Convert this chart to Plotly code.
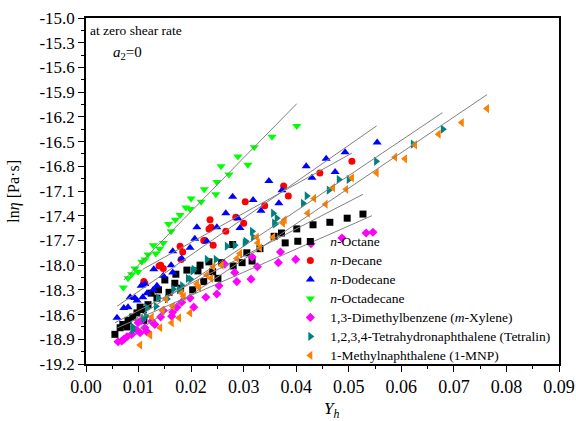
import plotly.graph_objects as go

# ---------------- data ----------------
names = ["<i>n</i>-Octane", "<i>n</i>-Decane", "<i>n</i>-Dodecane", "<i>n</i>-Octadecane",
         "1,3-Dimethylbenzene (<i>m</i>-Xylene)",
         "1,2,3,4-Tetrahydronaphthalene (Tetralin)",
         "1-Methylnaphthalene (1-MNP)"]
colors = ["#000000", "#ff0000", "#0000ff", "#00ff00", "#ff00ff", "#008080", "#ff8000"]
symbols = ["square", "circle", "triangle-up", "triangle-down", "diamond", "triangle-right", "triangle-left"]
msizes = [7, 7, 8, 8, 7, 8, 8]

octane_x = [0.0055, 0.0065, 0.0070, 0.0078, 0.0080, 0.0089, 0.0097, 0.0103, 0.0109, 0.0110, 0.0118, 0.0124,
            0.0135, 0.0138, 0.0150, 0.0158, 0.0169, 0.0171, 0.0180, 0.0192, 0.0203, 0.0213, 0.0217, 0.0224,
            0.0234, 0.0241, 0.0251, 0.0258, 0.0279, 0.0280, 0.0297, 0.0306, 0.0316, 0.0331, 0.0358, 0.0372,
            0.0379, 0.0401, 0.0403, 0.0432, 0.0464, 0.0497, 0.0527]
octane_y = [-18.84, -18.76, -18.72, -18.75, -18.67, -18.63, -18.58, -18.51, -18.54, -18.67, -18.48, -18.34,
            -18.40, -18.30, -18.18, -18.33, -18.22, -18.11, -18.28, -18.06, -18.30, -18.07, -18.00, -18.20,
            -17.96, -18.08, -18.16, -17.97, -17.75, -18.01, -17.97, -17.85, -17.95, -17.80, -17.65, -17.61,
            -17.73, -17.56, -17.71, -17.51, -17.48, -17.43, -17.38]

decane_x = [0.0110, 0.0112, 0.0139, 0.0142, 0.0147, 0.0179, 0.0181, 0.0184, 0.0224, 0.0226, 0.0234, 0.0236,
            0.0238, 0.0242, 0.0266, 0.0285, 0.0300, 0.0303, 0.0340, 0.0376, 0.0385, 0.0445, 0.0506]
decane_y = [-18.20, -18.22, -18.01, -18.00, -18.04, -17.77, -17.93, -17.84, -17.70, -17.70, -17.56, -17.45,
            -17.54, -17.76, -17.59, -17.42, -17.49, -17.23, -17.28, -17.04, -17.16, -16.88, -16.74]

dodecane_x = [0.0059, 0.0072, 0.0080, 0.0084, 0.0093, 0.0097, 0.0105, 0.0108, 0.0112, 0.0116, 0.0128, 0.0129,
              0.0135, 0.0147, 0.0162, 0.0165, 0.0165, 0.0182, 0.0198, 0.0207, 0.0211, 0.0230, 0.0249, 0.0266,
              0.0279, 0.0289, 0.0293, 0.0318, 0.0333, 0.0348, 0.0367, 0.0373, 0.0419, 0.0430, 0.0457, 0.0474,
              0.0493, 0.0554]
dodecane_y = [-18.64, -18.52, -18.51, -18.39, -18.40, -18.43, -18.25, -18.39, -18.23, -18.34, -18.30, -18.05,
              -18.25, -18.13, -18.00, -18.09, -17.83, -17.92, -17.79, -17.68, -17.54, -17.71, -17.54, -17.37,
              -17.17, -17.43, -17.55, -17.21, -17.34, -16.98, -17.25, -17.09, -16.80, -16.94, -16.71, -16.87,
              -16.63, -16.51]

octadecane_x = [0.0071, 0.0080, 0.0087, 0.0093, 0.0099, 0.0106, 0.0112, 0.0118, 0.0128, 0.0133, 0.0140, 0.0147,
                0.0157, 0.0162, 0.0170, 0.0179, 0.0190, 0.0198, 0.0200, 0.0219, 0.0225, 0.0247, 0.0249, 0.0257,
                0.0272, 0.0289, 0.0308, 0.0320, 0.0354, 0.0401]
octadecane_y = [-18.27, -18.16, -18.11, -18.04, -18.08, -17.96, -17.93, -17.87, -17.76, -17.86, -17.80, -17.73,
                -17.50, -17.59, -17.45, -17.39, -17.30, -17.32, -17.19, -17.23, -17.08, -17.14, -16.99, -16.80,
                -16.90, -16.68, -16.78, -16.57, -16.44, -16.31]

xylene_x = [0.0061, 0.0068, 0.0072, 0.0078, 0.0087, 0.0097, 0.0099, 0.0103, 0.0106, 0.0112, 0.0116, 0.0125,
            0.0131, 0.0142, 0.0147, 0.0163, 0.0165, 0.0173, 0.0182, 0.0198, 0.0205, 0.0228, 0.0249, 0.0253,
            0.0264, 0.0283, 0.0287, 0.0314, 0.0316, 0.0326, 0.0366, 0.0370, 0.0399, 0.0428, 0.0487, 0.0533,
            0.0546]
xylene_y = [-18.93, -18.92, -18.90, -18.87, -18.84, -18.79, -18.70, -18.82, -18.67, -18.76, -18.81, -18.68,
            -18.72, -18.63, -18.55, -18.62, -18.57, -18.51, -18.45, -18.40, -18.51, -18.39, -18.35, -18.25,
            -17.99, -18.09, -18.20, -18.17, -17.90, -18.02, -17.97, -17.84, -17.93, -17.74, -17.67, -17.61,
            -17.60]

tetralin_x = [0.0089, 0.0089, 0.0109, 0.0114, 0.0116, 0.0133, 0.0137, 0.0154, 0.0166, 0.0177, 0.0183, 0.0194,
              0.0199, 0.0203, 0.0205, 0.0230, 0.0247, 0.0268, 0.0283, 0.0302, 0.0304, 0.0316, 0.0318, 0.0356,
              0.0358, 0.0360, 0.0363, 0.0413, 0.0420, 0.0462, 0.0481, 0.0500, 0.0552, 0.0622, 0.0679]
tetralin_y = [-18.75, -18.79, -18.65, -18.62, -18.52, -18.50, -18.40, -18.41, -18.29, -18.30, -18.25, -18.16,
              -18.17, -18.07, -18.05, -17.93, -17.93, -17.77, -17.76, -17.73, -17.71, -17.59, -17.66, -17.37,
              -17.49, -17.50, -17.43, -17.25, -17.16, -17.09, -16.96, -16.96, -16.74, -16.53, -16.35]

mnp_x = [0.0103, 0.0122, 0.0125, 0.0141, 0.0146, 0.0152, 0.0163, 0.0165, 0.0177, 0.0182, 0.0186, 0.0198,
         0.0211, 0.0215, 0.0230, 0.0238, 0.0242, 0.0258, 0.0287, 0.0293, 0.0325, 0.0327, 0.0331, 0.0356,
         0.0375, 0.0378, 0.0422, 0.0434, 0.0456, 0.0470, 0.0495, 0.0506, 0.0553, 0.0588, 0.0607, 0.0626,
         0.0671, 0.0715, 0.0763]
mnp_y = [-18.97, -18.85, -18.63, -18.76, -18.55, -18.41, -18.70, -18.50, -18.64, -18.34, -18.38, -18.58,
         -18.23, -18.27, -18.12, -18.16, -18.02, -18.00, -17.92, -17.86, -17.66, -17.73, -17.79, -17.66,
         -17.49, -17.45, -17.37, -17.19, -17.26, -17.06, -17.08, -16.94, -16.88, -16.69, -16.71, -16.54,
         -16.41, -16.27, -16.10]

series_x = [octane_x, decane_x, dodecane_x, octadecane_x, xylene_x, tetralin_x, mnp_x]
series_y = [octane_y, decane_y, dodecane_y, octadecane_y, xylene_y, tetralin_y, mnp_y]

# model lines (start / end in data units)
line_x0 = [0.0055, 0.0108, 0.0059, 0.0072, 0.0060, 0.0090, 0.0103]
line_y0 = [-18.70, -18.05, -18.50, -18.18, -18.76, -18.67, -18.78]
line_x1 = [0.0527, 0.0506, 0.0553, 0.0401, 0.0544, 0.0678, 0.0763]
line_y1 = [-17.14, -16.64, -16.31, -16.04, -17.40, -16.15, -15.93]

x_tickvals = [0.00, 0.01, 0.02, 0.03, 0.04, 0.05, 0.06, 0.07, 0.08, 0.09]
x_ticktext = ["0.00", "0.01", "0.02", "0.03", "0.04", "0.05", "0.06", "0.07", "0.08", "0.09"]
y_tickvals = [-19.2, -18.9, -18.6, -18.3, -18.0, -17.7, -17.4, -17.1, -16.8, -16.5, -16.2, -15.9, -15.6, -15.3, -15.0]
y_ticktext = ["-19.2", "-18.9", "-18.6", "-18.3", "-18.0", "-17.7", "-17.4", "-17.1", "-16.8", "-16.5",
              "-16.2", "-15.9", "-15.6", "-15.3", "-15.0"]

# ---------------- figure ----------------
FONT = "Liberation Serif"
fig = go.Figure()

for i in range(len(names)):
    fig.add_trace(go.Scatter(
        x=series_x[i], y=series_y[i], mode="markers",
        name='<span style="font-size:13.5px">' + names[i] + '</span>',
        marker=dict(symbol=symbols[i], color=colors[i], size=msizes[i], line=dict(width=0)),
    ))

for i in range(len(names)):
    fig.add_trace(go.Scatter(
        x=[line_x0[i], line_x1[i]], y=[line_y0[i], line_y1[i]], mode="lines",
        line=dict(color="#808080", width=1), showlegend=False, hoverinfo="skip",
    ))

fig.update_layout(
    width=576, height=421,
    margin=dict(l=86, r=17, t=18, b=57, autoexpand=False),
    paper_bgcolor="white", plot_bgcolor="white",
    font=dict(family=FONT, size=14, color="black"),
    showlegend=True,
    legend=dict(x=0.432, y=-0.017, xanchor="left", yanchor="bottom",
                bgcolor="rgba(0,0,0,0)", font=dict(family=FONT, size=11),
                itemsizing="trace", itemwidth=30, tracegroupgap=0),
)

fig.update_xaxes(
    range=[0, 0.09], tickvals=x_tickvals, ticktext=x_ticktext, automargin=False,
    showline=True, linecolor="black", linewidth=1.5, mirror=True,
    ticks="outside", ticklen=6, tickwidth=1, tickcolor="black",
    minor=dict(dtick=0.005, tick0=0, ticks="outside", ticklen=3, tickcolor="black"),
    showgrid=False, zeroline=False,
    tickfont=dict(family=FONT, size=18),
)
fig.update_yaxes(
    range=[-19.2, -15.0], tickvals=y_tickvals, ticktext=y_ticktext, automargin=False,
    showline=True, linecolor="black", linewidth=1.5, mirror=True,
    ticks="outside", ticklen=6, tickwidth=1, tickcolor="black",
    minor=dict(dtick=0.15, tick0=-15.0, ticks="outside", ticklen=3, tickcolor="black"),
    showgrid=False, zeroline=False,
    tickfont=dict(family=FONT, size=17),
)

# axis titles
fig.add_annotation(x=0.52, y=-0.095, xref="paper", yref="paper", xanchor="center", yanchor="top",
                   text="<i>Y<sub>h</sub></i>", showarrow=False, font=dict(family=FONT, size=17))
fig.add_annotation(x=-0.153, y=0.5, xref="paper", yref="paper", xanchor="center", yanchor="middle",
                   text="ln<i>η</i> [Pa·s]", textangle=-90, showarrow=False, font=dict(family=FONT, size=16))

# in-plot notes
fig.add_annotation(x=0.005, y=0.99, xref="paper", yref="paper", xanchor="left", yanchor="top",
                   text="at zero shear rate", showarrow=False, font=dict(family=FONT, size=13.5))
fig.add_annotation(x=0.052, y=0.93, xref="paper", yref="paper", xanchor="left", yanchor="top",
                   text="<i>a</i><sub>2</sub>=0", showarrow=False, font=dict(family=FONT, size=15))

fig.write_html("out.html",
               config={"displayModeBar": False},
               post_script="document.body.style.margin='0';document.body.style.overflow='hidden';")
